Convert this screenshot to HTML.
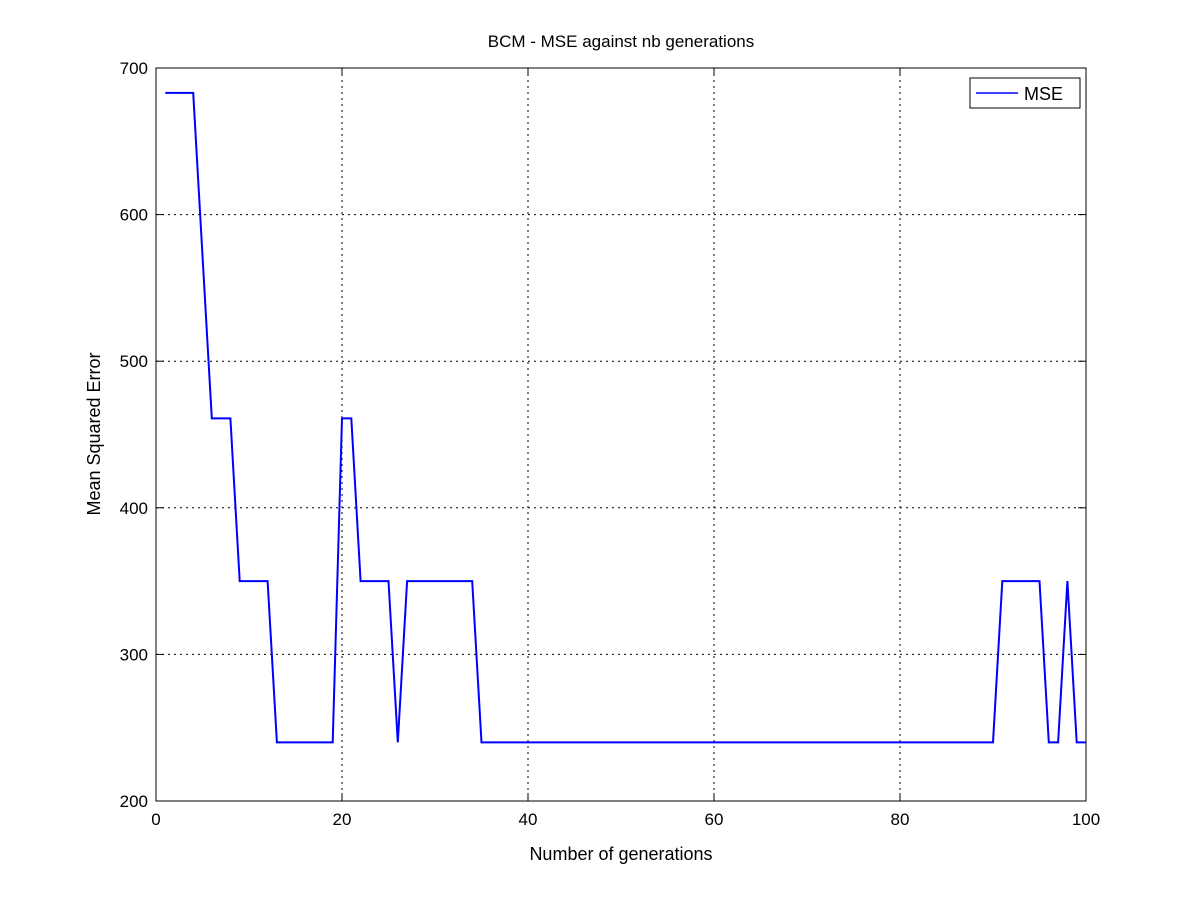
<!DOCTYPE html>
<html><head><meta charset="utf-8"><style>body{margin:0;background:#fff}svg{display:block}text{font-family:"Liberation Sans",sans-serif;fill:#000}</style></head>
<body>
<svg id="c" width="1200" height="900"></svg>
<script>
const xs=[];for(let i=1;i<=100;i++)xs.push(i);
const mse=[683,683,683,683,572,461,461,461,350,350,350,350,240,240,240,240,240,240,240,461,461,350,350,350,350,240,350,350,350,350,350,350,350,350,
240,240,240,240,240,240,240,240,240,240,240,240,240,240,240,240,240,240,240,240,240,240,240,240,240,240,240,240,240,240,240,240,240,240,240,240,240,240,240,240,240,240,240,240,240,240,240,240,240,240,240,240,240,240,240,240,
350,350,350,350,350,240,240,350,240,240];
const xTicks=[0,20,40,60,80,100];
const yTicks=[200,300,400,500,600,700];
const L=156,R=1086,T=68,B=801;
const X=v=>L+(v-0)/(100-0)*(R-L);
const Y=v=>B-(v-200)/(700-200)*(B-T);
const s=document.getElementById('c');const NS='http://www.w3.org/2000/svg';
function mk(t,a,p){const e=document.createElementNS(NS,t);for(const k in a)e.setAttribute(k,a[k]);(p||s).appendChild(e);return e;}
mk('rect',{x:L,y:T,width:R-L,height:B-T,fill:'#fff'});
xTicks.forEach(v=>{
 const g=mk('line',{x1:X(v),x2:X(v),y1:T,y2:B,stroke:'#000','stroke-dasharray':'2,4','stroke-width':1});
 
 mk('line',{x1:X(v),x2:X(v),y1:B,y2:B-8,stroke:'#000'});mk('line',{x1:X(v),x2:X(v),y1:T,y2:T+8,stroke:'#000'});
 const t=mk('text',{x:X(v),y:B+24,'text-anchor':'middle','font-size':17});t.textContent=v;
 
});
yTicks.forEach(v=>{
 const g=mk('line',{x1:L,x2:R,y1:Y(v),y2:Y(v),stroke:'#000','stroke-dasharray':'2,4','stroke-width':1});
 
 mk('line',{x1:L,x2:L+8,y1:Y(v),y2:Y(v),stroke:'#000'});mk('line',{x1:R,x2:R-8,y1:Y(v),y2:Y(v),stroke:'#000'});
 const t=mk('text',{x:L-8,y:Y(v)+6,'text-anchor':'end','font-size':17});t.textContent=v;
 
});
const fr=mk('rect',{x:L,y:T,width:R-L,height:B-T,fill:'none',stroke:'#000','stroke-width':1});

const ln=mk('polyline',{points:xs.map((x,i)=>X(x)+','+Y(mse[i])).join(' '),fill:'none',stroke:'#0000ff','stroke-width':2});

const tt=mk('text',{x:621,y:47,'text-anchor':'middle','font-size':17});tt.textContent='BCM - MSE against nb generations';

const xt=mk('text',{x:621,y:860,'text-anchor':'middle','font-size':18});xt.textContent='Number of generations';

const yt=mk('text',{x:0,y:0,'text-anchor':'middle','font-size':18,transform:'translate(100,434) rotate(-90)'});yt.textContent='Mean Squared Error';

const lg=mk('g',{});
mk('rect',{x:970,y:78,width:110,height:30,fill:'#fff',stroke:'#000'},lg);
mk('line',{x1:976,x2:1018,y1:93,y2:93,stroke:'#0000ff','stroke-width':1.5},lg);
const lt=mk('text',{x:1024,y:100,'font-size':18},lg);lt.textContent='MSE';

</script>
</body></html>
